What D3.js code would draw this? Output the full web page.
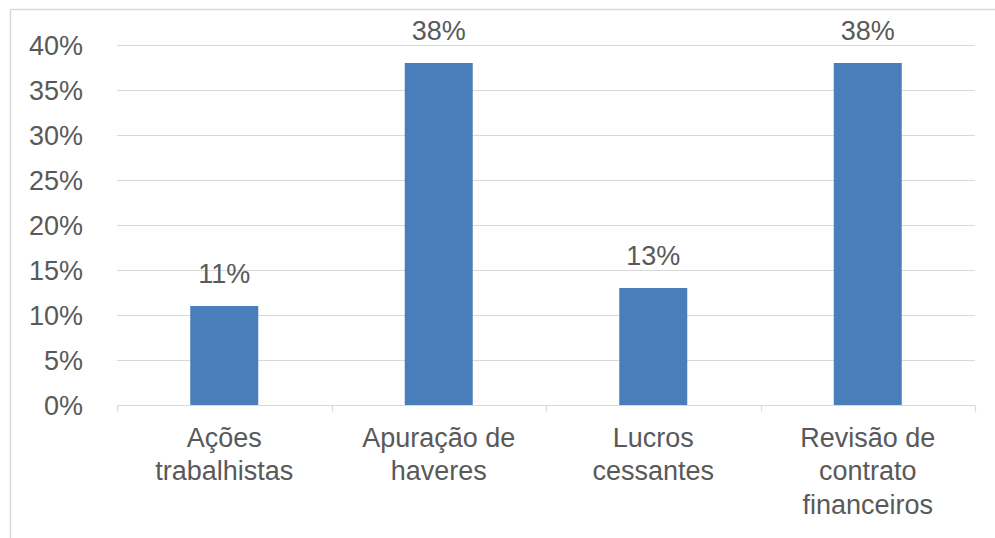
<!DOCTYPE html>
<html>
<head>
<meta charset="utf-8">
<script src="https://cdn.jsdelivr.net/npm/d3@7"></script>
<style>
  html, body { margin: 0; padding: 0; background: #fff; }
  svg { display: block; }
  text { font-family: "Liberation Sans", Arial, sans-serif; fill: #595959; }
</style>
</head>
<body>
<svg id="chart" width="995" height="538"></svg>
<script>
// Categories (multi-line labels) and their shares
const categories = [
  ["Ações", "trabalhistas"],
  ["Apuração de", "haveres"],
  ["Lucros", "cessantes"],
  ["Revisão de", "contrato", "financeiros"]
];
const values = [0.11, 0.38, 0.13, 0.38];
const yTicks = [0, 0.05, 0.10, 0.15, 0.20, 0.25, 0.30, 0.35, 0.40];

const W = 995, H = 538;
const margin = { left: 117, right: 20, top: 45, bottom: 133 };
const svg = d3.select("#chart");

// Outer chart frame
svg.append("rect")
  .attr("x", 10.5).attr("y", 9.5)
  .attr("width", W + 20).attr("height", H + 20)
  .attr("fill", "none").attr("stroke", "#d9d9d9").attr("stroke-width", 1.5);

const x = d3.scaleBand()
  .domain(d3.range(categories.length))
  .range([margin.left, W - margin.right])
  .paddingInner(0.683).paddingOuter(0.3415);

const xBounds = d3.scaleLinear()
  .domain([0, categories.length])
  .range([margin.left, W - margin.right]);

const y = d3.scaleLinear()
  .domain([0, 0.40])
  .range([H - margin.bottom, margin.top]);

// Horizontal gridlines
svg.append("g")
  .selectAll("line")
  .data(yTicks.filter(d => d > 0))
  .join("line")
  .attr("x1", margin.left).attr("x2", W - margin.right)
  .attr("y1", d => Math.round(y(d)) + 0.5).attr("y2", d => Math.round(y(d)) + 0.5)
  .attr("stroke", "#d9d9d9").attr("stroke-width", 1.2);

// Y axis labels
const fmt = d3.format(".0%");
svg.append("g")
  .selectAll("text")
  .data(yTicks)
  .join("text")
  .attr("x", 83)
  .attr("y", d => y(d))
  .attr("dy", "0.36em")
  .attr("text-anchor", "end")
  .attr("font-size", 27)
  .text(d => fmt(d));

// Bars
svg.append("g")
  .selectAll("rect")
  .data(values)
  .join("rect")
  .attr("x", (d, i) => x(i))
  .attr("width", x.bandwidth())
  .attr("y", d => y(d))
  .attr("height", d => y(0) - y(d))
  .attr("fill", "#4a7ebb");

// Value labels
svg.append("g")
  .selectAll("text")
  .data(values)
  .join("text")
  .attr("x", (d, i) => x(i) + x.bandwidth() / 2)
  .attr("y", d => y(d) - 23)
  .attr("text-anchor", "middle")
  .attr("font-size", 27)
  .text(d => fmt(d));

// X axis baseline and category separators
const axisY = Math.round(y(0)) + 0.5;
svg.append("line")
  .attr("x1", margin.left).attr("x2", W - margin.right)
  .attr("y1", axisY).attr("y2", axisY)
  .attr("stroke", "#d9d9d9").attr("stroke-width", 1.2);
svg.append("g")
  .selectAll("line")
  .data(d3.range(categories.length + 1))
  .join("line")
  .attr("x1", d => Math.round(xBounds(d)) + 0.5).attr("x2", d => Math.round(xBounds(d)) + 0.5)
  .attr("y1", axisY).attr("y2", axisY + 6)
  .attr("stroke", "#d9d9d9").attr("stroke-width", 1.2);

// Category labels
const catG = svg.append("g")
  .selectAll("text")
  .data(categories)
  .join("text")
  .attr("text-anchor", "middle")
  .attr("font-size", 27)
  .attr("transform", (d, i) => `translate(${x(i) + x.bandwidth() / 2},${axisY + 41})`);
catG.selectAll("tspan")
  .data(d => d)
  .join("tspan")
  .attr("x", 0)
  .attr("y", (d, j) => j * 33.7)
  .text(d => d);
</script>
</body>
</html>
